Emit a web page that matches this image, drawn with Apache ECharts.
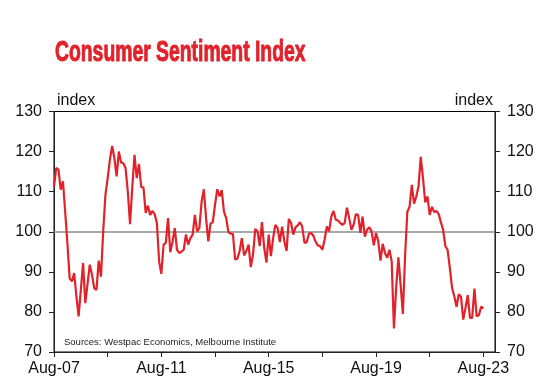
<!DOCTYPE html>
<html>
<head>
<meta charset="utf-8">
<script src="https://cdn.jsdelivr.net/npm/echarts@6/dist/echarts.min.js"></script>
<style>
html,body{margin:0;padding:0;background:#fff;}
#chart{width:537px;height:384px;}
</style>
</head>
<body>
<div id="chart"></div>
<script>
// Monthly index, Aug-07 .. Aug-23
const startMonth = 'Aug-07';
const sentiment = [
  111.3,115.9,115.5,110.5,112.6,105.0,97.0,88.4,87.6,89.7,
  84.0,78.9,85.5,92.2,82.2,87.0,91.8,89.3,85.9,85.5,
  92.8,88.8,100.1,109.2,113.4,118.0,121.4,118.4,113.8,120.0,
  117.3,117.1,115.9,110.0,101.9,111.0,119.2,113.4,116.9,111.1,
  111.1,104.7,106.5,104.2,105.2,104.4,102.2,92.6,89.5,96.8,
  97.2,103.4,94.9,97.5,100.9,95.5,94.7,95.0,95.5,99.3,
  96.8,98.4,99.3,104.2,100.1,100.9,107.5,110.6,103.4,97.6,
  102.0,102.4,106.7,110.6,108.8,110.4,105.0,103.4,99.9,99.5,
  99.5,93.1,93.3,95.2,98.4,94.1,95.2,96.8,91.2,94.3,
  100.7,100.1,96.4,102.4,96.0,92.3,99.3,93.9,98.5,101.7,
  100.9,97.4,101.3,97.6,95.2,103.2,102.2,99.3,101.1,101.6,
  102.4,101.3,97.2,97.4,99.5,99.7,99.0,97.5,96.6,96.4,
  95.5,98.0,101.3,100.1,103.8,105.2,103.0,102.8,102.2,101.7,
  102.2,106.0,103.4,100.5,101.8,104.4,104.2,99.7,103.8,98.8,
  100.5,101.1,100.1,96.6,99.7,97.6,92.8,97.0,94.7,93.5,
  95.5,92.6,75.9,86.0,93.6,86.8,79.5,94.0,105.0,106.2,
  111.7,107.0,108.8,111.3,118.7,113.4,107.3,108.8,104.2,106.2,
  104.9,105.2,104.4,102.4,100.5,96.4,95.5,91.0,86.0,83.9,
  81.3,84.4,83.8,78.1,81.0,84.2,78.5,78.5,85.8,78.9,
  79.2,81.3,80.9
];
const xTickLabels = ['Aug-07','Aug-11','Aug-15','Aug-19','Aug-23'];
const yTicks = [70,80,90,100,110,120,130];
const refLevel = 100;
const titleText = 'Consumer Sentiment Index';
const unitText = 'index';
const sourceText = 'Sources: Westpac Economics, Melbourne Institute';

const seriesData = sentiment.map((v, i) => [i, v]);

const chart = echarts.init(document.getElementById('chart'), null, {renderer: 'canvas'});
const axisFont = 'Liberation Sans, Arial, sans-serif';
const yAxisCommon = {
  type: 'value', min: yTicks[0], max: yTicks[yTicks.length - 1], interval: 10,
  axisLine: {show: true, lineStyle: {color: '#222', width: 1}},
  axisTick: {show: true, inside: false, length: 5, lineStyle: {color: '#222'}},
  axisLabel: {color: '#111', fontSize: 16, fontFamily: axisFont, margin: 12},
  splitLine: {show: false}
};
chart.setOption({
  animation: false,
  backgroundColor: '#fff',
  grid: {left: 54, right: 42, top: 111.5, bottom: 32, show: true, borderColor: '#000', borderWidth: 1, backgroundColor: 'transparent'},
  xAxis: {
    type: 'value', min: 0, max: 197.2, interval: 24,
    axisLine: {show: true, onZero: false, lineStyle: {color: '#222', width: 1}},
    axisTick: {show: true, inside: false, length: 5, lineStyle: {color: '#222'}},
    splitLine: {show: false},
    axisLabel: {
      color: '#111', fontSize: 16, fontFamily: axisFont, margin: 9,
      showMaxLabel: false,
      formatter: function (v) {
        if (Math.abs(v % 48) > 1e-6) return '';
        return xTickLabels[Math.round(v / 48)] || '';
      }
    }
  },
  yAxis: [
    Object.assign({position: 'left'}, yAxisCommon),
    Object.assign({position: 'right'}, yAxisCommon)
  ],
  series: [{
    type: 'line',
    data: seriesData,
    showSymbol: false,
    symbol: 'none',
    lineStyle: {color: '#e1222b', width: 2.2},
    z: 3,
    markLine: {
      silent: true, symbol: 'none', animation: false,
      label: {show: false},
      lineStyle: {color: '#8c8c8c', width: 1.5, type: 'solid'},
      data: [{yAxis: refLevel}],
      z: 2
    }
  }],
  graphic: [
    {type: 'text', x: 55, y: 38, scaleX: 0.645, z: 10,
     style: {text: titleText, fill: '#e1222b', stroke: '#e1222b', lineWidth: 1, textVerticalAlign: 'top',
             font: 'bold 30px "Liberation Sans", Arial, sans-serif'}},
    {type: 'text', left: 57, top: 93, z: 10,
     style: {text: unitText, fill: '#111', font: '16px Liberation Sans, Arial, sans-serif'}},
    {type: 'text', right: 44, top: 93, z: 10,
     style: {text: unitText, fill: '#111', font: '16px Liberation Sans, Arial, sans-serif'}},
    {type: 'text', left: 64, top: 337, z: 10,
     style: {text: sourceText, fill: '#222', font: '9.5px Liberation Sans, Arial, sans-serif'}}
  ]
});
</script>
</body>
</html>
